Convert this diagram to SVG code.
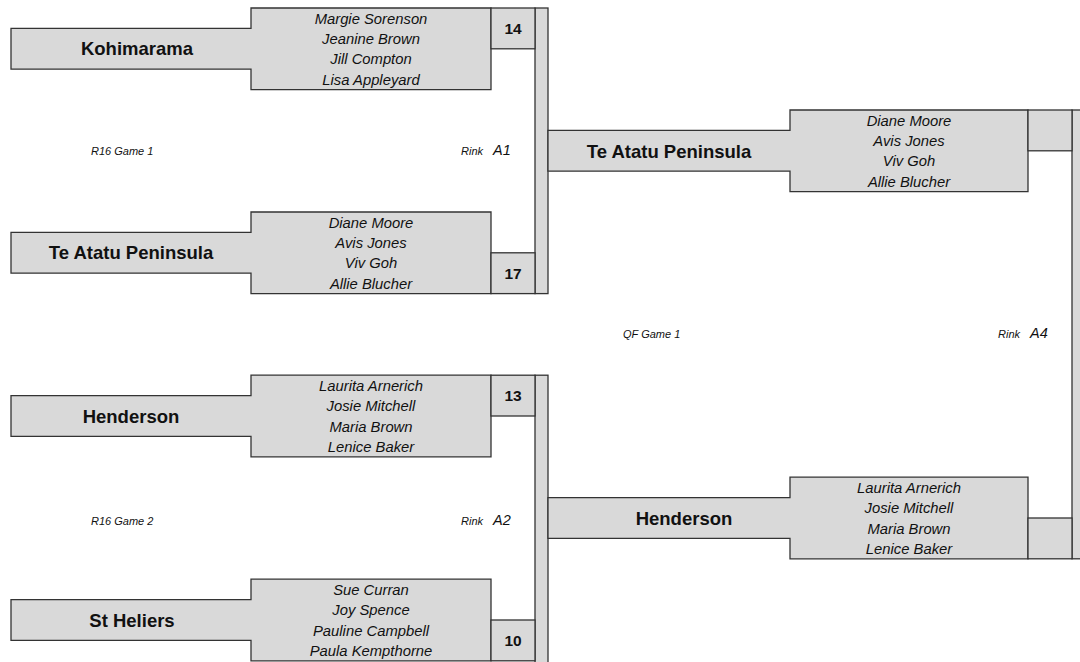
<svg xmlns="http://www.w3.org/2000/svg" width="1080" height="662" viewBox="0 0 1080 662">
<style>
.box{fill:#d9d9d9;stroke:#333;stroke-width:1.3}
.team{font-family:"Liberation Sans",Arial,sans-serif;font-weight:bold;font-size:18.5px;fill:#111;text-anchor:middle}
.pl{font-family:"Liberation Sans",Arial,sans-serif;font-style:italic;font-size:14.8px;fill:#111;text-anchor:middle}
.sc{font-family:"Liberation Sans",Arial,sans-serif;font-weight:bold;font-size:15.5px;fill:#111;text-anchor:middle}
.lab{font-family:"Liberation Sans",Arial,sans-serif;font-style:italic;font-size:11px;fill:#111}
.rk{font-family:"Liberation Sans",Arial,sans-serif;font-style:italic;font-size:14.5px;fill:#111}
</style>
<rect width="1080" height="662" fill="#fff"/>
<g id="connectors">
<rect class="box" x="535" y="8" width="13" height="285.6"/>
<rect class="box" x="535" y="375.2" width="13" height="300"/>
<rect class="box" x="1072" y="110" width="13" height="448.8"/>
</g>
<g id="r16-kohimarama">
<path class="box" d="M11,28.4 H251 V8 H491 V89.6 H251 V69.2 H11 Z"/>
<rect class="box" x="491" y="8" width="44" height="40.8"/>
<text class="team" x="137" y="55">Kohimarama</text>
<text class="pl" x="371" y="23.5">Margie Sorenson</text>
<text class="pl" x="371" y="43.9">Jeanine Brown</text>
<text class="pl" x="371" y="64.3">Jill Compton</text>
<text class="pl" x="371" y="84.7">Lisa Appleyard</text>
<text class="sc" x="513" y="34">14</text>
</g>
<g id="r16-teatatu">
<path class="box" d="M11,232.4 H251 V212 H491 V293.6 H251 V273.2 H11 Z"/>
<rect class="box" x="491" y="252.8" width="44" height="40.8"/>
<text class="team" x="131" y="259">Te Atatu Peninsula</text>
<text class="pl" x="371" y="227.5">Diane Moore</text>
<text class="pl" x="371" y="247.9">Avis Jones</text>
<text class="pl" x="371" y="268.3">Viv Goh</text>
<text class="pl" x="371" y="288.7">Allie Blucher</text>
<text class="sc" x="513" y="278.5">17</text>
</g>
<g id="r16-henderson">
<path class="box" d="M11,395.6 H251 V375.2 H491 V456.8 H251 V436.4 H11 Z"/>
<rect class="box" x="491" y="375.2" width="44" height="40.8"/>
<text class="team" x="131" y="422.5">Henderson</text>
<text class="pl" x="371" y="390.7">Laurita Arnerich</text>
<text class="pl" x="371" y="411.1">Josie Mitchell</text>
<text class="pl" x="371" y="431.5">Maria Brown</text>
<text class="pl" x="371" y="451.9">Lenice Baker</text>
<text class="sc" x="513" y="401">13</text>
</g>
<g id="r16-stheliers">
<path class="box" d="M11,599.6 H251 V579.2 H491 V660.8 H251 V640.4 H11 Z"/>
<rect class="box" x="491" y="620" width="44" height="40.8"/>
<text class="team" x="132" y="626.5">St Heliers</text>
<text class="pl" x="371" y="594.7">Sue Curran</text>
<text class="pl" x="371" y="615.1">Joy Spence</text>
<text class="pl" x="371" y="635.5">Pauline Campbell</text>
<text class="pl" x="371" y="655.9">Paula Kempthorne</text>
<text class="sc" x="513" y="645.5">10</text>
</g>
<g id="qf-teatatu">
<path class="box" d="M548,130.4 H790 V110 H1028 V191.6 H790 V171.2 H548 Z"/>
<rect class="box" x="1028" y="110" width="44" height="40.8"/>
<text class="team" x="669" y="157.5">Te Atatu Peninsula</text>
<text class="pl" x="909" y="125.5">Diane Moore</text>
<text class="pl" x="909" y="145.9">Avis Jones</text>
<text class="pl" x="909" y="166.3">Viv Goh</text>
<text class="pl" x="909" y="186.7">Allie Blucher</text>
</g>
<g id="qf-henderson">
<path class="box" d="M548,497.6 H790 V477.2 H1028 V558.8 H790 V538.4 H548 Z"/>
<rect class="box" x="1028" y="518" width="44" height="40.8"/>
<text class="team" x="684" y="524.5">Henderson</text>
<text class="pl" x="909" y="492.7">Laurita Arnerich</text>
<text class="pl" x="909" y="513.1">Josie Mitchell</text>
<text class="pl" x="909" y="533.5">Maria Brown</text>
<text class="pl" x="909" y="553.9">Lenice Baker</text>
</g>
<g id="labels">
<text class="lab" x="91" y="155">R16 Game 1</text>
<text class="lab" x="461" y="155">Rink</text>
<text class="rk" x="493" y="155">A1</text>
<text class="lab" x="91" y="525">R16 Game 2</text>
<text class="lab" x="461" y="525">Rink</text>
<text class="rk" x="493" y="525">A2</text>
<text class="lab" x="623" y="338">QF Game 1</text>
<text class="lab" x="998" y="338">Rink</text>
<text class="rk" x="1030" y="338">A4</text>
</g>
</svg>
